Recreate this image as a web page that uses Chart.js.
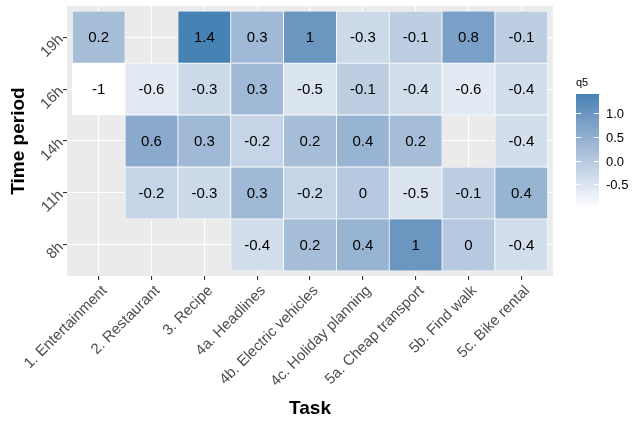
<!DOCTYPE html>
<html>
<head>
<meta charset="utf-8">
<script src="https://cdn.jsdelivr.net/npm/chart.js@4"></script>
<style>
  html, body { margin: 0; padding: 0; background: #fff; }
</style>
</head>
<body>
<canvas id="heat" width="633" height="423"></canvas>
<script>
// --- Data ---
const tasks = ['1. Entertainment', '2. Restaurant', '3. Recipe', '4a. Headlines', '4b. Electric vehicles',
    '4c. Holiday planning', '5a. Cheap transport', '5b. Find walk', '5c. Bike rental'];
const periods = ['8h', '11h', '14h', '16h', '19h'];

const q5_19h = [0.2, null, 1.4, 0.3, 1, -0.3, -0.1, 0.8, -0.1];
const q5_16h = [-1, -0.6, -0.3, 0.3, -0.5, -0.1, -0.4, -0.6, -0.4];
const q5_14h = [null, 0.6, 0.3, -0.2, 0.2, 0.4, 0.2, null, -0.4];
const q5_11h = [null, -0.2, -0.3, 0.3, -0.2, 0, -0.5, -0.1, 0.4];
const q5_8h = [null, null, null, -0.4, 0.2, 0.4, 1, 0, -0.4];

const legendTicks = [1.0, 0.5, 0.0, -0.5];

// rows in the same order as periods (bottom to top)
const rows = [q5_8h, q5_11h, q5_14h, q5_16h, q5_19h];

const FONT = "'Liberation Sans', Arial, sans-serif";
const allVals = rows.flat().filter(v => v !== null);
const vMin = Math.min(...allVals);
const vMax = Math.max(...allVals);

// --- Colour ramp (white -> steelblue, interpolated in Lab like ggplot) ---
function toLin(c) { c /= 255; return c <= 0.04045 ? c / 12.92 : Math.pow((c + 0.055) / 1.055, 2.4); }
function fromLin(c) { const v = c <= 0.0031308 ? 12.92 * c : 1.055 * Math.pow(c, 1 / 2.4) - 0.055; return Math.round(Math.max(0, Math.min(1, v)) * 255); }
function rgbToLab(rgb) {
    const [r, g, b] = rgb.map(toLin);
    const x = (0.4124 * r + 0.3576 * g + 0.1805 * b) / 0.95047;
    const y = 0.2126 * r + 0.7152 * g + 0.0722 * b;
    const z = (0.0193 * r + 0.1192 * g + 0.9505 * b) / 1.08883;
    const f = t => t > 0.008856 ? Math.cbrt(t) : 7.787 * t + 16 / 116;
    const fx = f(x), fy = f(y), fz = f(z);
    return [116 * fy - 16, 500 * (fx - fy), 200 * (fy - fz)];
}
function labToRgb([L, A, B]) {
    const fy = (L + 16) / 116, fx = fy + A / 500, fz = fy - B / 200;
    const inv = t => t ** 3 > 0.008856 ? t ** 3 : (t - 16 / 116) / 7.787;
    const x = inv(fx) * 0.95047, y = inv(fy), z = inv(fz) * 1.08883;
    const r = 3.2406 * x - 1.5372 * y - 0.4986 * z;
    const g = -0.9689 * x + 1.8758 * y + 0.0415 * z;
    const b = 0.0557 * x - 0.2040 * y + 1.0570 * z;
    return [fromLin(r), fromLin(g), fromLin(b)];
}
const labLow = rgbToLab([255, 255, 255]);
const labHigh = rgbToLab([70, 130, 180]);
function colorFor(v) {
    const t = (v - vMin) / (vMax - vMin);
    const lab = labLow.map((c, i) => c + (labHigh[i] - c) * t);
    const [r, g, b] = labToRgb(lab);
    return `rgb(${r},${g},${b})`;
}

// one floating bar per cell
const cells = [];
rows.forEach((row, r) => {
    row.forEach((v, c) => {
        if (v === null) return;
        cells.push({ x: c, y: [r - 0.5, r + 0.5], v: v });
    });
});

// --- Plugins ---
const panelBg = {
    id: 'panelBg',
    beforeDraw(chart) {
        const { ctx, chartArea: a } = chart;
        ctx.save();
        ctx.fillStyle = '#EBEBEB';
        ctx.fillRect(a.left, a.top, a.right - a.left, a.bottom - a.top);
        ctx.restore();
    }
};

const cellLabels = {
    id: 'cellLabels',
    afterDatasetsDraw(chart) {
        const { ctx } = chart;
        const meta = chart.getDatasetMeta(0);
        ctx.save();
        ctx.font = `15px ${FONT}`;
        ctx.fillStyle = '#000';
        ctx.textAlign = 'center';
        ctx.textBaseline = 'middle';
        meta.data.forEach((bar, i) => {
            const cell = cells[i];
            ctx.fillText(String(cell.v), bar.x, (bar.y + bar.base) / 2 + 1);
        });
        ctx.restore();
    }
};

const colorBar = {
    id: 'colorBar',
    afterDraw(chart) {
        const { ctx } = chart;
        const left = 576, width = 23, top = 94, bottom = 208;
        const yFor = v => bottom - (v - vMin) / (vMax - vMin) * (bottom - top);
        ctx.save();
        const grad = ctx.createLinearGradient(0, bottom, 0, top);
        for (let i = 0; i <= 20; i++) {
            const v = vMin + (vMax - vMin) * i / 20;
            grad.addColorStop(i / 20, colorFor(v));
        }
        ctx.fillStyle = grad;
        ctx.fillRect(left, top, width, bottom - top);

        ctx.font = `11px ${FONT}`;
        ctx.fillStyle = '#000';
        ctx.textAlign = 'left';
        ctx.textBaseline = 'alphabetic';
        ctx.fillText('q5', left, 86);

        ctx.font = `13px ${FONT}`;
        ctx.textBaseline = 'middle';
        ctx.strokeStyle = '#fff';
        ctx.lineWidth = 1;
        legendTicks.forEach(t => {
            const y = Math.round(yFor(t)) + 0.5;
            ctx.beginPath();
            ctx.moveTo(left, y); ctx.lineTo(left + 5, y);
            ctx.moveTo(left + width - 5, y); ctx.lineTo(left + width, y);
            ctx.stroke();
            ctx.fillText(t.toFixed(1), left + width + 7, y + 1);
        });
        ctx.restore();
    }
};

function noPad(s) {
    s.paddingLeft = 0; s.paddingRight = 0; s.paddingTop = 0; s.paddingBottom = 0;
}

// --- Chart ---
const ctx = document.getElementById('heat').getContext('2d');
new Chart(ctx, {
    type: 'bar',
    data: {
        datasets: [{
            data: cells,
            backgroundColor: cells.map(c => colorFor(c.v)),
            borderColor: '#ffffff',
            borderWidth: 0.75,
            borderSkipped: false,
            barPercentage: 1,
            categoryPercentage: 1
        }]
    },
    options: {
        responsive: false,
        animation: false,
        layout: { padding: { top: 6, right: 80, left: 0, bottom: 0 } },
        plugins: { legend: { display: false }, tooltip: { enabled: false } },
        scales: {
            x: {
                type: 'linear',
                offset: false,
                min: -0.6,
                max: tasks.length - 0.4,
                afterBuildTicks: s => { s.ticks = tasks.map((t, i) => ({ value: i })); },
                afterFit: s => { s.height = 147; noPad(s); },
                grid: { offset: false, color: '#ffffff', lineWidth: 1.1, tickColor: '#333333', tickLength: 4 },
                border: { display: false },
                ticks: {
                    autoSkip: false,
                    minRotation: 45,
                    maxRotation: 45,
                    padding: 2,
                    labelOffset: 6,
                    color: '#4D4D4D',
                    font: { family: FONT, size: 15 },
                    callback: v => tasks[v]
                },
                title: {
                    display: true,
                    text: 'Task',
                    color: '#000',
                    font: { family: FONT, size: 19, weight: 'bold' },
                    padding: { bottom: 3 }
                }
            },
            y: {
                type: 'linear',
                offset: false,
                min: -0.6,
                max: periods.length - 0.4,
                afterBuildTicks: s => { s.ticks = periods.map((p, i) => ({ value: i })); },
                afterFit: s => { s.width = 67; noPad(s); },
                grid: { color: '#ffffff', lineWidth: 1.1, tickColor: '#333333', tickLength: 4 },
                border: { display: false },
                ticks: {
                    minRotation: 45,
                    maxRotation: 45,
                    padding: 2,
                    color: '#4D4D4D',
                    font: { family: FONT, size: 15 },
                    callback: v => periods[v]
                },
                title: {
                    display: true,
                    text: 'Time period',
                    color: '#000',
                    font: { family: FONT, size: 19, weight: 'bold' },
                    padding: { top: 7 }
                }
            }
        }
    },
    plugins: [panelBg, cellLabels, colorBar]
});
</script>
</body>
</html>
